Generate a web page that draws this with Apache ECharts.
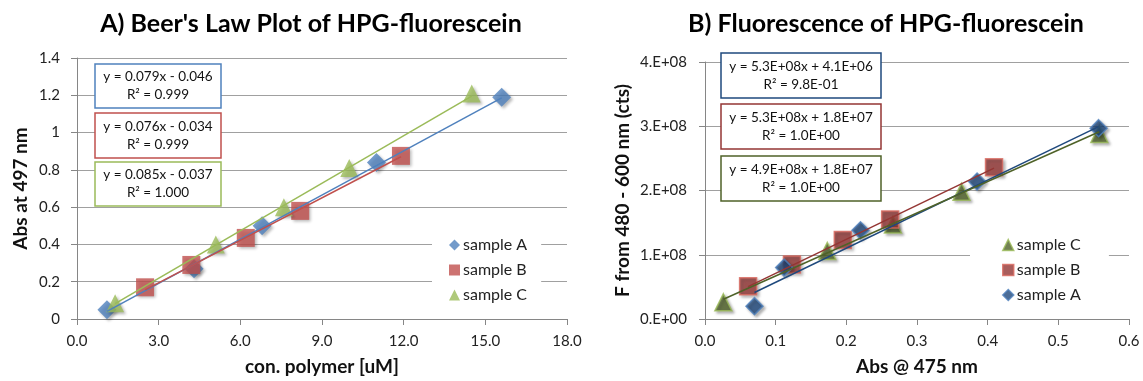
<!DOCTYPE html>
<html>
<head>
<meta charset="utf-8">
<script src="https://cdn.jsdelivr.net/npm/echarts@6/dist/echarts.min.js"></script>
<style>
  html, body { margin: 0; padding: 0; background: #fff; }
  #chart { width: 1143px; height: 381px; }
</style>
</head>
<body>
<div id="chart"></div>
<script>
// Panel A: absorbance vs. polymer concentration
const beerAx = [1.1, 4.3, 6.8, 11.0, 15.6]
const beerAy = [0.05, 0.27, 0.50, 0.84, 1.19]
const beerBx = [2.5, 4.2, 6.2, 8.2, 11.9]
const beerBy = [0.17, 0.29, 0.435, 0.58, 0.875]
const beerCx = [1.4, 5.1, 7.6, 10.0, 14.5]
const beerCy = [0.085, 0.40, 0.60, 0.81, 1.21]
// slope, intercept as printed on the chart
const beerFits = [[0.079, -0.046], [0.076, -0.034], [0.085, -0.037]]
const beerEq = [
  'y = 0.079x - 0.046\nR² = 0.999',
  'y = 0.076x - 0.034\nR² = 0.999',
  'y = 0.085x - 0.037\nR² = 1.000'
]
const beerXTicks = ['0.0', '3.0', '6.0', '9.0', '12.0', '15.0', '18.0']
const beerYTicks = ['0', '0.2', '0.4', '0.6', '0.8', '1', '1.2', '1.4']

// Panel B: fluorescence vs. absorbance
const fluAx = [0.07, 0.112, 0.22, 0.385, 0.557]
const fluAy = [2.0e7, 8.0e7, 1.38e8, 2.14e8, 2.97e8]
const fluBx = [0.061, 0.123, 0.195, 0.262, 0.409]
const fluBy = [5.1e7, 8.5e7, 1.23e8, 1.55e8, 2.36e8]
const fluCx = [0.026, 0.173, 0.266, 0.363, 0.558]
const fluCy = [2.6e7, 1.06e8, 1.47e8, 1.98e8, 2.88e8]
const fluFits = [[5.3e8, 4.1e6], [5.3e8, 1.8e7], [4.9e8, 1.8e7]]
const fluEq = [
  'y = 5.3E+08x + 4.1E+06\nR² = 9.8E-01',
  'y = 5.3E+08x + 1.8E+07\nR² = 1.0E+00',
  'y = 4.9E+08x + 1.8E+07\nR² = 1.0E+00'
]
const fluXTicks = ['0.0', '0.1', '0.2', '0.3', '0.4', '0.5', '0.6']
const fluYTicks = ['0.E+00', '1.E+08', '2.E+08', '3.E+08', '4.E+08']

const FONT = 'Lato, "Open Sans", sans-serif'
const AXIS_COLOR = '#868686'
const GRID_COLOR = '#a0a0a0'
const TICK_SIZE = 15

const zip = (xs, ys) => xs.map((x, i) => [x, ys[i]])

const fitLine = (xs, [m, b]) => {
  const lo = Math.min(...xs)
  const hi = Math.max(...xs)
  return [[lo, m * lo + b], [hi, m * hi + b]]
}

const markerShadow = {
  shadowBlur: 3,
  shadowOffsetX: 2,
  shadowOffsetY: 2,
  shadowColor: 'rgba(0,0,0,0.35)'
}

const scatter = (name, idx, data, symbol, size, fill, border) => ({
  name,
  type: 'scatter',
  xAxisIndex: idx,
  yAxisIndex: idx,
  data,
  symbol,
  symbolSize: size,
  z: 2,
  itemStyle: { color: fill, borderColor: border, borderWidth: border ? 1.5 : 0, ...markerShadow },
  emphasis: { disabled: true }
})

const trend = (idx, data, color) => ({
  type: 'line',
  xAxisIndex: idx,
  yAxisIndex: idx,
  data,
  symbol: 'none',
  z: 3,
  lineStyle: { color, width: 1.5 },
  silent: true
})

const valueAxis = (gridIndex, min, max, interval, labels, margin, extra) => ({
  type: 'value',
  gridIndex,
  min,
  max,
  interval,
  axisLine: { show: true, lineStyle: { color: AXIS_COLOR } },
  axisTick: { show: true, length: 6, lineStyle: { color: AXIS_COLOR } },
  axisLabel: {
    color: '#222',
    fontFamily: FONT,
    fontSize: TICK_SIZE,
    margin,
    formatter: (v) => labels[Math.round((v - min) / interval)]
  },
  nameTextStyle: { color: '#111', fontFamily: FONT, fontSize: 19, fontWeight: 'bold' },
  nameLocation: 'middle',
  ...extra
})

const eqBox = (x, y, w, h, color, text) => ({
  type: 'group',
  children: [
    { type: 'rect', shape: { x, y, width: w, height: h }, style: { fill: '#fff', stroke: color, lineWidth: 1.5 }, z: 10 },
    {
      type: 'text',
      x: x + w / 2,
      y: y + h / 2,
      z: 11,
      style: {
        text,
        align: 'center',
        verticalAlign: 'middle',
        fontFamily: FONT,
        fontSize: 13.5,
        lineHeight: 18,
        fill: '#111'
      }
    }
  ]
})

const BEER = ['#4F81BD', '#C0504D', '#9BBB59']
const FLU_FILL = ['#1F497D', '#943634', '#4F6228']
const FLU_EDGE = ['#4F81BD', '#D9695F', '#9BBB59']

const chart = echarts.init(document.getElementById('chart'))

chart.setOption({
  animation: false,
  title: [
    { text: "A) Beer's Law Plot of HPG-fluorescein", left: 306, top: 6, textAlign: 'center',
      textStyle: { fontFamily: FONT, fontSize: 25, fontWeight: 'bold', color: '#000' } },
    { text: 'B) Fluorescence of HPG-fluorescein', left: 881, top: 6, textAlign: 'center',
      textStyle: { fontFamily: FONT, fontSize: 25, fontWeight: 'bold', color: '#000' } }
  ],
  grid: [
    { left: 77, top: 58, width: 490, height: 265 },
    { left: 705, top: 62, width: 424, height: 260 }
  ],
  xAxis: [
    valueAxis(0, 0, 18, 3, beerXTicks, 15, {
      name: 'con. polymer [uM]', nameGap: 38,
      splitLine: { show: false }
    }),
    valueAxis(1, 0, 0.6, 0.1, fluXTicks, 15, {
      name: 'Abs @ 475 nm', nameGap: 38,
      splitLine: { show: false }
    })
  ],
  yAxis: [
    valueAxis(0, 0, 1.4, 0.2, beerYTicks, 17, {
      name: 'Abs at 497 nm', nameGap: 47,
      splitLine: { show: true, lineStyle: { color: GRID_COLOR, width: 1 } }
    }),
    valueAxis(1, 0, 4e8, 1e8, fluYTicks, 18, {
      name: 'F from 480 - 600 nm (cts)', nameGap: 73,
      splitLine: { show: true, lineStyle: { color: GRID_COLOR, width: 1 } }
    })
  ],
  legend: [
    {
      orient: 'vertical',
      left: 432,
      top: 231,
      padding: [6, 14, 6, 17],
      backgroundColor: '#fff',
      itemWidth: 11,
      itemHeight: 11,
      itemGap: 9,
      selectedMode: false,
      textStyle: { fontFamily: FONT, fontSize: 16, color: '#222', padding: [0, 0, 0, -2] },
      data: [
        { name: 'sample A', icon: 'diamond', itemStyle: { color: BEER[0], borderWidth: 0 } },
        { name: 'sample B', icon: 'rect', itemStyle: { color: BEER[1], borderWidth: 0 } },
        { name: 'sample C', icon: 'triangle', itemStyle: { color: BEER[2], borderWidth: 0 } }
      ]
    },
    {
      orient: 'vertical',
      left: 970,
      top: 231,
      padding: [6, 28, 6, 32],
      backgroundColor: '#fff',
      itemWidth: 11,
      itemHeight: 11,
      itemGap: 9,
      selectedMode: false,
      textStyle: { fontFamily: FONT, fontSize: 16, color: '#222', padding: [0, 0, 0, -2] },
      data: [
        { name: 'sample C', icon: 'triangle', itemStyle: { color: FLU_FILL[2], borderColor: FLU_EDGE[2], borderWidth: 1.5 } },
        { name: 'sample B', icon: 'rect', itemStyle: { color: FLU_FILL[1], borderColor: FLU_EDGE[1], borderWidth: 1.5 } },
        { name: 'sample A', icon: 'diamond', itemStyle: { color: FLU_FILL[0], borderColor: FLU_EDGE[0], borderWidth: 1.5 } }
      ]
    }
  ],
  graphic: [
    eqBox(95, 64, 126, 44, BEER[0], beerEq[0]),
    eqBox(95, 113, 126, 45, BEER[1], beerEq[1]),
    eqBox(95, 162, 126, 44, BEER[2], beerEq[2]),
    eqBox(721, 53, 160, 45, FLU_FILL[0], fluEq[0]),
    eqBox(721, 104, 160, 45, FLU_FILL[1], fluEq[1]),
    eqBox(721, 156, 160, 45, FLU_FILL[2], fluEq[2])
  ],
  series: [
    scatter('sample A', 0, zip(beerAx, beerAy), 'diamond', 19, BEER[0]),
    scatter('sample B', 0, zip(beerBx, beerBy), 'rect', 18, BEER[1]),
    scatter('sample C', 0, zip(beerCx, beerCy), 'triangle', 18, BEER[2]),
    trend(0, fitLine(beerAx, beerFits[0]), BEER[0]),
    trend(0, fitLine(beerBx, beerFits[1]), BEER[1]),
    trend(0, fitLine(beerCx, beerFits[2]), BEER[2]),

    scatter('sample C', 1, zip(fluCx, fluCy), 'triangle', 17, FLU_FILL[2], FLU_EDGE[2]),
    scatter('sample B', 1, zip(fluBx, fluBy), 'rect', 17, FLU_FILL[1], FLU_EDGE[1]),
    scatter('sample A', 1, zip(fluAx, fluAy), 'diamond', 17, FLU_FILL[0], FLU_EDGE[0]),
    trend(1, fitLine(fluAx, fluFits[0]), FLU_FILL[0]),
    trend(1, fitLine(fluBx, fluFits[1]), FLU_FILL[1]),
    trend(1, fitLine(fluCx, fluFits[2]), FLU_FILL[2])
  ]
})
</script>
</body>
</html>
